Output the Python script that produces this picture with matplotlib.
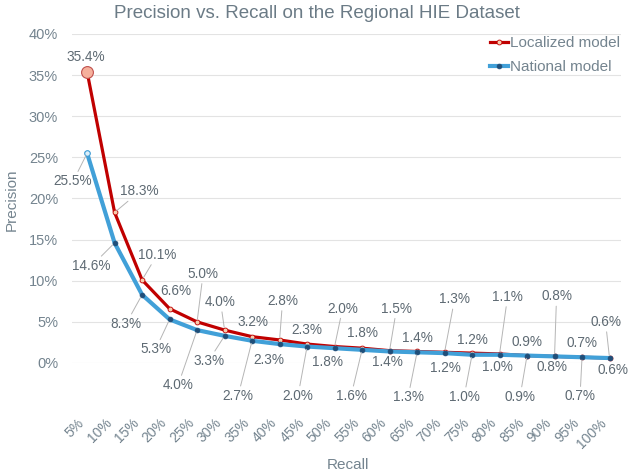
import matplotlib
matplotlib.use("Agg")
import matplotlib.pyplot as plt
import numpy as np

plt.rcParams['font.family'] = ['Liberation Sans', 'DejaVu Sans']

# Datos
recall = ['5%', '10%', '15%', '20%', '25%', '30%', '35%', '40%', '45%', '50%',
          '55%', '60%', '65%', '70%', '75%', '80%', '85%', '90%', '95%', '100%']
localized = [35.4, 18.3, 10.1, 6.6, 5.0, 4.0, 3.2, 2.8, 2.3, 2.0,
             1.8, 1.5, 1.4, 1.3, 1.2, 1.1, 0.9, 0.8, 0.7, 0.6]
national = [25.5, 14.6, 8.3, 5.3, 4.0, 3.3, 2.7, 2.3, 2.0, 1.8,
            1.6, 1.4, 1.3, 1.2, 1.0, 1.0, 0.9, 0.8, 0.7, 0.6]

# desplazamiento de etiquetas (pixeles, x derecha, y abajo)
off_loc = [(-1, -15), (25, -21), (15, -25), (6, -18), (6, -48), (-4, -28), (1, -15),
           (3, -39), (0, -14), (8, -38), (0, -15), (7, -42), (0, -13), (10, -53),
           (0, -13), (8, -57), (0, -14), (2, -60), (0, -14), (-4, -36)]
off_nat = [(-14, 28), (-23, 23), (-16, 29), (-14, 30), (-19, 55), (-16, 25), (-14, 55),
           (-11, 16), (-9, 49), (-7, 14), (-11, 46), (-2, 11), (-9, 45), (1, 15),
           (-8, 42), (-2, 12), (-7, 41), (-3, 11), (-2, 39), (3, 12)]

red = '#C00000'
blue = '#41A0D8'
txt = '#5E6A73'
axc = '#74848F'

fig = plt.figure(figsize=(6.33, 4.74), dpi=100)
ax = fig.add_axes([0.1137, 0.2342, 0.8666, 0.6941])

x = np.arange(len(recall))
ax.plot(x, localized, color=red, lw=2.3, marker='o', ms=3.5, mfc='#F8CBAD',
        mec=red, mew=0.6, zorder=3, label='Localized model')
ax.plot(x[:1], localized[:1], 'o', ms=8.5, mfc='#F6B09C', mec='#C0504D', mew=0.8, zorder=6)
ax.plot(x, national, color=blue, lw=3.0, marker='o', ms=3.5, mfc='#1F4E79',
        mec='#1F4E79', mew=0.5, zorder=4, label='National model')
ax.plot(x[:1], national[:1], 'o', ms=4, mfc='#DDEFFA', mec=blue, mew=0.8, zorder=6)

for vals, offs in ((localized, off_loc), (national, off_nat)):
    for i, v in enumerate(vals):
        dx, dy = offs[i]
        line = dict(arrowstyle='-', color='#B5B5B5', lw=0.7, shrinkA=0, shrinkB=2) \
            if np.hypot(dx, dy) >= 20 else None
        ax.annotate(f'{v:.1f}%', (i, v), xytext=(dx, -dy), textcoords='offset pixels',
                    ha='center', va='center', fontsize=9.8, color=txt,
                    arrowprops=line, zorder=7)

ax.set_xlim(-0.55, 19.4)
ax.set_ylim(0, 40)
ax.set_yticks(range(0, 41, 5))
ax.set_yticklabels([f'{t}%' for t in range(0, 41, 5)])
ax.set_xticks(x)
ax.set_xticklabels(recall, rotation=45, ha='right', va='top')
ax.tick_params(axis='x', length=0, pad=38, labelsize=10, labelcolor=axc)
ax.tick_params(axis='y', length=0, pad=10, labelsize=10.5, labelcolor=axc)
ax.grid(axis='y', color='#E3E3E3', lw=0.8)
ax.set_axisbelow(True)
for s in ax.spines.values():
    s.set_visible(False)

fig.text(12 / 633, 1 - 200 / 474, 'Precision', rotation=90, fontsize=11, color=axc,
         ha='center', va='center')
fig.text(348 / 633, 1 - 465 / 474, 'Recall', fontsize=11, color=axc, ha='center', va='center')
fig.text(0.5, 1 - 14 / 474, 'Precision vs. Recall on the Regional HIE Dataset',
         fontsize=13.5, color='#6B7B86', ha='center', va='center')

leg = ax.legend(loc='upper right', bbox_to_anchor=(1.025, 1.035), frameon=False, fontsize=11,
                handlelength=1.2, handletextpad=0.15, labelspacing=0.65, labelcolor=axc)

fig.savefig('out.png', dpi=100)
